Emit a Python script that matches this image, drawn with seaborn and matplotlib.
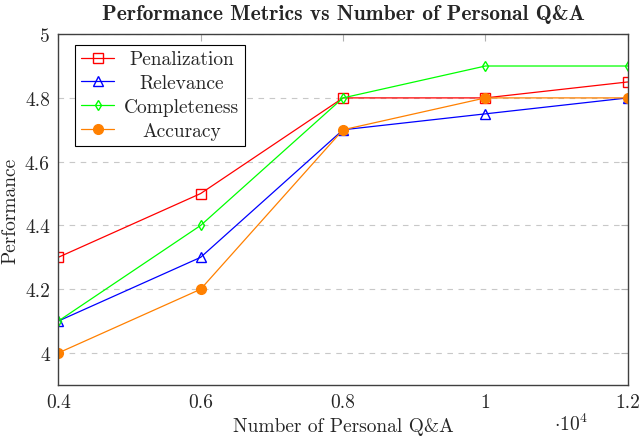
import matplotlib
matplotlib.use("Agg")
import matplotlib.pyplot as plt
import seaborn as sns
import pandas as pd

# data
qa_counts = [4000, 6000, 8000, 10000, 12000]
penalization = [4.3, 4.5, 4.8, 4.8, 4.85]
relevance = [4.1, 4.3, 4.7, 4.75, 4.8]
completeness = [4.1, 4.4, 4.8, 4.9, 4.9]
accuracy = [4.0, 4.2, 4.7, 4.8, 4.8]

series = {
    "Penalization": (penalization, "#ff0000", "s", "none"),
    "Relevance": (relevance, "#0000ff", "^", "none"),
    "Completeness": (completeness, "#00ff00", "d", "none"),
    "Accuracy": (accuracy, "#ff8000", "o", "#ff8000"),
}

sns.set_style("white")
plt.rcParams["font.family"] = ["cmr10", "DejaVu Serif"]
plt.rcParams["mathtext.fontset"] = "cm"
plt.rcParams["axes.formatter.use_mathtext"] = True

fig, ax = plt.subplots(figsize=(6.4, 4.39), dpi=100)
fig.subplots_adjust(left=0.091, right=0.981, top=0.92, bottom=0.121)

for name, (vals, color, marker, face) in series.items():
    df = pd.DataFrame({"x": qa_counts, "y": vals})
    sns.lineplot(data=df, x="x", y="y", ax=ax, color=color, marker=marker,
                 markerfacecolor=face, markeredgecolor=color,
                 markersize=7 if marker != "d" else 5.5, markeredgewidth=1.0,
                 linewidth=0.9, label=name)

ax.set_xlim(4000, 12000)
ax.set_ylim(3.9, 5.0)
ax.set_xticks([4000, 6000, 8000, 10000, 12000])
ax.set_xticklabels(["0.4", "0.6", "0.8", "1", "1.2"])
ax.set_yticks([4.0, 4.2, 4.4, 4.6, 4.8, 5.0])
ax.set_yticklabels(["4", "4.2", "4.4", "4.6", "4.8", "5"])
ax.yaxis.grid(True, color="#c8c8c8", linestyle=(0, (5, 5)), linewidth=0.8)
ax.tick_params(axis="both", direction="in", length=5, color="#b0b0b0",
               labelsize=14, top=True, right=True, pad=6)
for sp in ax.spines.values():
    sp.set_color("#404040")
    sp.set_linewidth(1.0)

ax.set_xlabel("Number of Personal Q&A", fontsize=14, labelpad=4)
ax.set_ylabel("Performance", fontsize=14, labelpad=4)
ax.set_title("Performance Metrics vs Number of Personal Q&A", fontsize=15.5,
             family=["cmb10", "DejaVu Serif"], pad=11)
fig.text(0.866, 0.008, r"$\cdot 10^4$", fontsize=14, va="bottom", ha="left")

leg = ax.legend(loc="upper left", bbox_to_anchor=(0.03, 0.97), fontsize=14,
                frameon=True, fancybox=False, framealpha=1, edgecolor="black",
                borderpad=0.3, labelspacing=0.3, handlelength=1.7,
                handletextpad=0.5, borderaxespad=0, markerfirst=True)
leg.get_frame().set_linewidth(0.8)

# centre the legend labels like pgfplots does
fig.canvas.draw()
widths = [t.get_window_extent().width for t in leg.get_texts()]
for t, w in zip(leg.get_texts(), widths):
    t.set_x((max(widths) - w) / 2)

fig.savefig("out.png", dpi=100)
